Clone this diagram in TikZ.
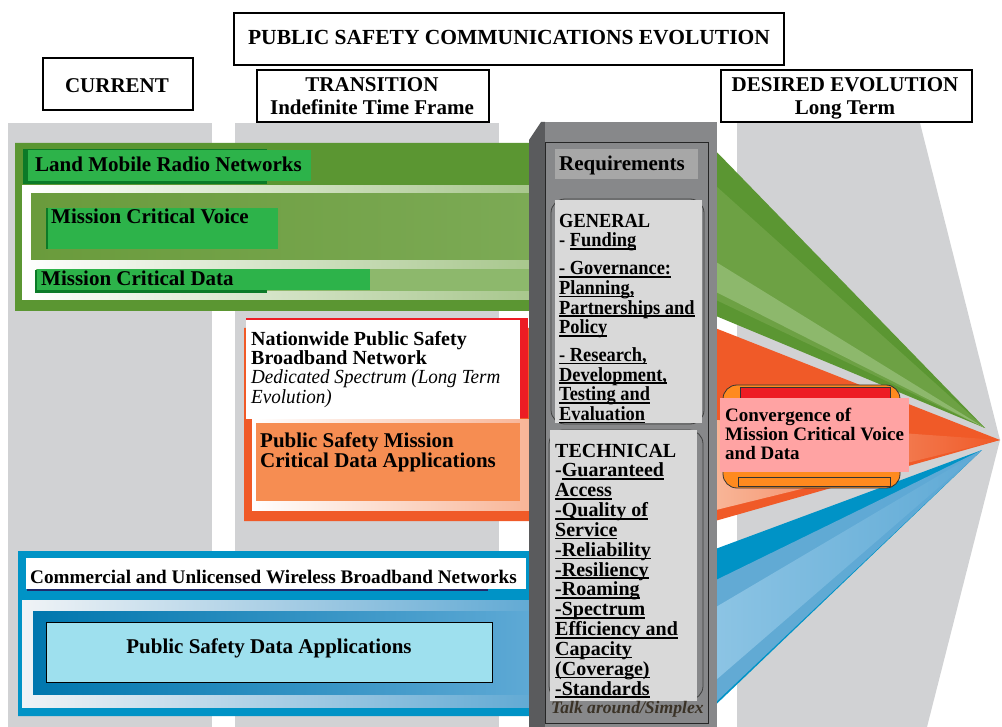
\documentclass[tikz,border=0pt]{standalone}
\usepackage{graphicx}
\usepackage{fontspec}
\setmainfont{Liberation Serif}

% palette
\definecolor{colgray}{HTML}{D1D2D4}
\definecolor{lmr}{HTML}{5B9632}
\definecolor{lmrpale}{HTML}{A8C78D}
\definecolor{lmrmid}{HTML}{6A9B3C}
\definecolor{lmrmidR}{HTML}{7CAA55}
\definecolor{lmrstrip}{HTML}{8DB86C}
\definecolor{lmrfan}{HTML}{6DA144}
\definecolor{lblgreen}{HTML}{2DB34A}
\definecolor{lbldark}{HTML}{0B7A27}
\definecolor{npsbn}{HTML}{F05A28}
\definecolor{npsbnpale}{HTML}{F8B597}
\definecolor{alertred}{HTML}{ED1C24}
\definecolor{mcdapp}{HTML}{F68D52}
\definecolor{cwb}{HTML}{0093C6}
\definecolor{cwbwhite}{HTML}{F0F3F6}
\definecolor{cwbpale}{HTML}{62AAD4}
\definecolor{cwbdeep}{HTML}{0077AE}
\definecolor{cwbmid}{HTML}{5EA9D5}
\definecolor{cwblight}{HTML}{8CC4E4}
\definecolor{psdacyan}{HTML}{9EE0EE}
\definecolor{navy}{HTML}{1F2A6B}
\definecolor{reqface}{HTML}{87888A}
\definecolor{reqside}{HTML}{5A5B5D}
\definecolor{reqhead}{HTML}{A7A7A7}
\definecolor{reqlist}{HTML}{D9D9D9}
\definecolor{convorange}{HTML}{FF8A1F}
\definecolor{convpink}{HTML}{FFA3A3}
\definecolor{talk}{HTML}{3A3226}

\newcommand\fs[2]{\fontsize{#1}{#2}\selectfont}
\newsavebox\ulbox
\newcommand\ulin[1]{\sbox\ulbox{#1}\rlap{\rule[-3pt]{\wd\ulbox}{1.6pt}}\usebox\ulbox}
\newcommand\narrow[1]{\scalebox{0.955}[1]{#1}}

% multi-line labels are placed by the baseline of their last line
\tikzset{
  hdrbox/.style={draw=black, line width=1.8pt, fill=white, anchor=north west, inner sep=0},
  hdrtxt/.style={anchor=base, inner sep=0, font=\bfseries\fs{21}{21}},
  lbl/.style={anchor=base west, inner sep=0, align=left},
}

\begin{document}
\begin{tikzpicture}[x=1pt,y=-1pt]
\useasboundingbox (0,0) rectangle (1002,727);
\fill[white] (0,0) rectangle (1002,727);

% time-frame columns
\fill[colgray] (8,123) rectangle (212,727);
\fill[colgray] (235,123) rectangle (499,727);
\fill[colgray] (737,123) -- (920,123) -- (1000,440) -- (927,727) -- (737,727) -- cycle;

% land mobile radio band and its fan
\fill[lmr] (15,143) -- (708,143) -- (985,428) -- (704,311) -- (15,311) -- cycle;
\shade[left color=white, right color=lmrpale] (22,186) rectangle (530,300);
\shade[left color=lmrmid, right color=lmrmidR] (31,194) rectangle (530,260);
\fill[lmrstrip] (36,269) rectangle (530,291);
\fill[lmrfan] (716,186) -- (985,428) -- (716,300) -- cycle;
\fill[lmrstrip] (716,262) -- (985,428) -- (716,292) -- cycle;

% broadband band and its fan
\fill[npsbn] (244,328) -- (715,328) -- (1000,440) -- (715,521) -- (244,521) -- cycle;
\shade[left color=white, right color=npsbnpale] (252,420) rectangle (530,510);
\shade[left color=npsbnpale, right color=npsbn] (716,420) -- (1000,440) -- (716,510) -- cycle;

% commercial band and its fan
\fill[cwb] (18,551) -- (710,551) -- (982,450) -- (704,716) -- (18,716) -- cycle;
\shade[left color=cwbwhite, right color=cwbpale] (22,600) rectangle (530,707);
\shade[left color=cwbdeep, right color=cwbmid] (33,611) rectangle (530,694);
\shade[left color=cwbpale, right color=cwbmid] (716,580) -- (982,450) -- (716,702) -- cycle;
\shade[left color=cwblight, right color=cwbmid] (716,607) -- (982,450) -- (716,680) -- cycle;

% requirements pillar
\fill[reqside] (529,140) -- (541,122) -- (545,122) -- (545,727) -- (529,727) -- cycle;
\fill[reqface] (545,122) rectangle (717,727);
\draw[black!85, line width=1pt] (545,143) rectangle (708,723);
\fill[reqhead] (555,149) rectangle (698,179);
\node[lbl, font=\bfseries\fs{21}{21}] (reqtxt) at (559,171) {Requirements};

\draw[black!75, line width=0.8pt, rounded corners=14] (551,199) rectangle (704,424);
\fill[reqlist] (555,200) rectangle (702,423);
\begin{scope}[shift={(559,420.5)}, xscale=0.92]
\node[lbl, transform shape, font=\bfseries\fs{20}{19.7}] (general) at (0,0)
  {GENERAL\\
   - \ulin{Funding}\\[8pt]
   \ulin{- Governance:}\\
   \ulin{Planning,}\\
   \ulin{Partnerships and}\\
   \ulin{Policy}\\[8pt]
   \ulin{- Research,}\\
   \ulin{Development,}\\
   \ulin{Testing and}\\
   \ulin{Evaluation}};
\end{scope}

\draw[black!75, line width=0.8pt, rounded corners=14] (549,430) rectangle (703,700);
\fill[reqlist] (550,430) rectangle (697,701);
\node[lbl, font=\bfseries\fs{20}{19.83}] (technical) at (555,695)
  {TECHNICAL\\
   -\ulin{Guaranteed}\\
   \ulin{Access}\\
   \ulin{-Quality of}\\
   \ulin{Service}\\
   \ulin{-Reliability}\\
   \ulin{-Resiliency}\\
   \ulin{-Roaming}\\
   \ulin{-Spectrum}\\
   \ulin{Efficiency and}\\
   \ulin{Capacity}\\
   \ulin{(Coverage)}\\
   \ulin{-Standards}};
\node[lbl, font=\bfseries\itshape\fs{17.6}{17.6}, text=talk] (talkaround) at (551,713) {Talk around/Simplex};

% land mobile radio labels
\fill[lbldark] (23,149) rectangle (267,184);
\fill[lblgreen] (28,150) rectangle (311,181);
\node[lbl, font=\bfseries\fs{21}{21}] (lmrtxt) at (35,172) {Land Mobile Radio Networks};
\fill[lbldark] (46,208) rectangle (48,249);
\fill[lblgreen] (48,208) rectangle (278,249);
\node[lbl, font=\bfseries\fs{21}{21}] (mcvtxt) at (51,224) {Mission Critical Voice};
\fill[lbldark] (35,270) rectangle (267,293);
\fill[lblgreen] (37,269) rectangle (370,290);
\node[lbl, font=\bfseries\fs{21}{21}] (mcdtxt) at (41,286) {Mission Critical Data};

% broadband labels
\fill[alertred] (246,318) rectangle (528,418);
\fill[white] (246,320) rectangle (520,419);
\node[lbl, font=\fs{20}{19.33}] (npsbntxt) at (251,403)
  {\textbf{Nationwide Public Safety}\\
   \textbf{Broadband Network}\\
   \narrow{\itshape Dedicated Spectrum (Long Term}\\
   \narrow{\itshape Evolution)}};
\fill[mcdapp] (256,423) rectangle (520,501);
\node[lbl, font=\bfseries\fs{21}{20}] (psmcdtxt) at (260,467)
  {Public Safety Mission\\Critical Data Applications};

% commercial labels
\fill[navy] (27,588) rectangle (488,591);
\fill[white] (26,558) rectangle (526,589);
\node[lbl, font=\bfseries\fs{19.2}{19}] (cwbtxt) at (30,583)
  {Commercial and Unlicensed Wireless Broadband Networks};
\filldraw[fill=psdacyan, draw=black, line width=1pt] (46,622) rectangle (492,682);
\node[anchor=base, inner sep=0, font=\bfseries\fs{21}{21}] (psdatxt) at (269,653)
  {Public Safety Data Applications};

% convergence capsule
\filldraw[fill=convorange, draw=black!80, line width=0.8pt, rounded corners=14] (723,385) rectangle (900,488);
\filldraw[fill=alertred, draw=black!80, line width=0.6pt] (740,387) rectangle (890,398);
\filldraw[fill=convorange, draw=black!80, line width=0.6pt] (738,477) rectangle (890,486);
\fill[convpink] (720,398) rectangle (909,472);
\node[lbl, font=\bfseries\fs{19}{19.5}] (convtxt) at (725,460)
  {Convergence of\\Mission Critical Voice\\and Data};

% headings
\node[hdrbox, minimum width=550, minimum height=52] (titlebox) at (233,12) {};
\node[hdrtxt, font=\bfseries\fs{21.5}{21.5}] (titletxt) at (509,45) {PUBLIC SAFETY COMMUNICATIONS EVOLUTION};
\node[hdrbox, minimum width=150, minimum height=52] (currbox) at (42,57) {};
\node[hdrtxt] (currtxt) at (117,93) {CURRENT};
\node[hdrbox, minimum width=232, minimum height=52] (transbox) at (256,69) {};
\node[hdrtxt] (transtxt) at (372,92) {TRANSITION};
\node[hdrtxt] (transsub) at (372,115) {Indefinite Time Frame};
\node[hdrbox, minimum width=251, minimum height=52] (desbox) at (720,69) {};
\node[hdrtxt] (destxt) at (845,92) {DESIRED EVOLUTION};
\node[hdrtxt] (dessub) at (845,115) {Long Term};
\end{tikzpicture}
\end{document}
